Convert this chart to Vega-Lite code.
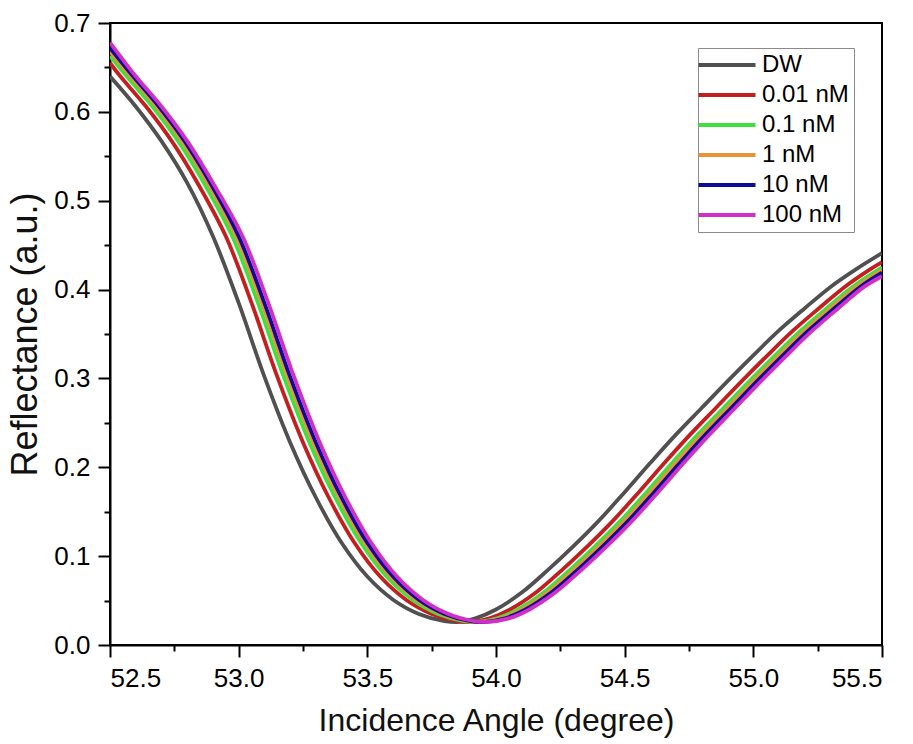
{
"$schema": "https://vega.github.io/schema/vega-lite/v6.json",
"width": 772, "height": 622,
"autosize": {"type": "none"},
"padding": {"left": 110, "top": 23, "right": 31, "bottom": 99},
"background": "white",
"config": {
 "view": {"stroke": "black", "strokeWidth": 2},
 "font": "Liberation Sans",
 "axis": {"domainColor": "black", "domainWidth": 2, "tickColor": "black", "tickWidth": 2, "tickSize": 12, "labelFontSize": 26, "labelColor": "black", "labelPadding": 8, "titleFontSize": 32, "titleFontWeight": "normal", "titleColor": "#111", "grid": false, "labelFont": "Liberation Sans", "titleFont": "Liberation Sans"}
},
"data": {"values": [
{"s":"DW","x":52.50,"y":0.640},{"s":"DW","x":52.60,"y":0.606},{"s":"DW","x":52.70,"y":0.567},{"s":"DW","x":52.80,"y":0.520},{"s":"DW","x":52.90,"y":0.460},{"s":"DW","x":53.00,"y":0.385},{"s":"DW","x":53.10,"y":0.302},{"s":"DW","x":53.20,"y":0.228},{"s":"DW","x":53.30,"y":0.166},{"s":"DW","x":53.40,"y":0.115},{"s":"DW","x":53.50,"y":0.077},{"s":"DW","x":53.60,"y":0.051},{"s":"DW","x":53.70,"y":0.035},{"s":"DW","x":53.80,"y":0.027},{"s":"DW","x":53.86,"y":0.026},{"s":"DW","x":53.92,"y":0.030},{"s":"DW","x":54.00,"y":0.040},{"s":"DW","x":54.10,"y":0.059},{"s":"DW","x":54.20,"y":0.084},{"s":"DW","x":54.30,"y":0.111},{"s":"DW","x":54.40,"y":0.140},{"s":"DW","x":54.50,"y":0.172},{"s":"DW","x":54.60,"y":0.205},{"s":"DW","x":54.70,"y":0.237},{"s":"DW","x":54.80,"y":0.267},{"s":"DW","x":54.90,"y":0.297},{"s":"DW","x":55.00,"y":0.326},{"s":"DW","x":55.10,"y":0.354},{"s":"DW","x":55.20,"y":0.379},{"s":"DW","x":55.30,"y":0.403},{"s":"DW","x":55.40,"y":0.423},{"s":"DW","x":55.50,"y":0.441},
{"s":"0.01 nM","x":52.50,"y":0.655},{"s":"0.01 nM","x":52.54,"y":0.640},{"s":"0.01 nM","x":52.64,"y":0.606},{"s":"0.01 nM","x":52.74,"y":0.567},{"s":"0.01 nM","x":52.84,"y":0.520},{"s":"0.01 nM","x":52.95,"y":0.460},{"s":"0.01 nM","x":53.05,"y":0.385},{"s":"0.01 nM","x":53.15,"y":0.302},{"s":"0.01 nM","x":53.25,"y":0.228},{"s":"0.01 nM","x":53.35,"y":0.166},{"s":"0.01 nM","x":53.45,"y":0.115},{"s":"0.01 nM","x":53.55,"y":0.077},{"s":"0.01 nM","x":53.65,"y":0.051},{"s":"0.01 nM","x":53.75,"y":0.035},{"s":"0.01 nM","x":53.85,"y":0.027},{"s":"0.01 nM","x":53.905,"y":0.026},{"s":"0.01 nM","x":53.975,"y":0.030},{"s":"0.01 nM","x":54.055,"y":0.040},{"s":"0.01 nM","x":54.155,"y":0.059},{"s":"0.01 nM","x":54.255,"y":0.084},{"s":"0.01 nM","x":54.355,"y":0.111},{"s":"0.01 nM","x":54.455,"y":0.140},{"s":"0.01 nM","x":54.555,"y":0.172},{"s":"0.01 nM","x":54.655,"y":0.205},{"s":"0.01 nM","x":54.755,"y":0.237},{"s":"0.01 nM","x":54.855,"y":0.267},{"s":"0.01 nM","x":54.955,"y":0.297},{"s":"0.01 nM","x":55.055,"y":0.326},{"s":"0.01 nM","x":55.155,"y":0.354},{"s":"0.01 nM","x":55.255,"y":0.379},{"s":"0.01 nM","x":55.355,"y":0.403},{"s":"0.01 nM","x":55.455,"y":0.423},{"s":"0.01 nM","x":55.50,"y":0.431},
{"s":"0.1 nM","x":52.50,"y":0.663},{"s":"0.1 nM","x":52.565,"y":0.640},{"s":"0.1 nM","x":52.665,"y":0.606},{"s":"0.1 nM","x":52.765,"y":0.567},{"s":"0.1 nM","x":52.865,"y":0.520},{"s":"0.1 nM","x":52.975,"y":0.460},{"s":"0.1 nM","x":53.075,"y":0.385},{"s":"0.1 nM","x":53.175,"y":0.302},{"s":"0.1 nM","x":53.275,"y":0.228},{"s":"0.1 nM","x":53.375,"y":0.166},{"s":"0.1 nM","x":53.475,"y":0.115},{"s":"0.1 nM","x":53.575,"y":0.077},{"s":"0.1 nM","x":53.675,"y":0.051},{"s":"0.1 nM","x":53.775,"y":0.035},{"s":"0.1 nM","x":53.875,"y":0.027},{"s":"0.1 nM","x":53.93,"y":0.026},{"s":"0.1 nM","x":54.005,"y":0.030},{"s":"0.1 nM","x":54.085,"y":0.040},{"s":"0.1 nM","x":54.185,"y":0.059},{"s":"0.1 nM","x":54.285,"y":0.084},{"s":"0.1 nM","x":54.385,"y":0.111},{"s":"0.1 nM","x":54.485,"y":0.140},{"s":"0.1 nM","x":54.585,"y":0.172},{"s":"0.1 nM","x":54.685,"y":0.205},{"s":"0.1 nM","x":54.785,"y":0.237},{"s":"0.1 nM","x":54.885,"y":0.267},{"s":"0.1 nM","x":54.985,"y":0.297},{"s":"0.1 nM","x":55.085,"y":0.326},{"s":"0.1 nM","x":55.185,"y":0.354},{"s":"0.1 nM","x":55.285,"y":0.379},{"s":"0.1 nM","x":55.385,"y":0.403},{"s":"0.1 nM","x":55.50,"y":0.425},
{"s":"1 nM","x":52.50,"y":0.668},{"s":"1 nM","x":52.58,"y":0.640},{"s":"1 nM","x":52.68,"y":0.606},{"s":"1 nM","x":52.78,"y":0.567},{"s":"1 nM","x":52.88,"y":0.520},{"s":"1 nM","x":52.99,"y":0.460},{"s":"1 nM","x":53.09,"y":0.385},{"s":"1 nM","x":53.19,"y":0.302},{"s":"1 nM","x":53.29,"y":0.228},{"s":"1 nM","x":53.39,"y":0.166},{"s":"1 nM","x":53.49,"y":0.115},{"s":"1 nM","x":53.59,"y":0.077},{"s":"1 nM","x":53.69,"y":0.051},{"s":"1 nM","x":53.79,"y":0.035},{"s":"1 nM","x":53.89,"y":0.027},{"s":"1 nM","x":53.945,"y":0.026},{"s":"1 nM","x":54.02,"y":0.030},{"s":"1 nM","x":54.10,"y":0.040},{"s":"1 nM","x":54.20,"y":0.059},{"s":"1 nM","x":54.30,"y":0.084},{"s":"1 nM","x":54.40,"y":0.111},{"s":"1 nM","x":54.50,"y":0.140},{"s":"1 nM","x":54.60,"y":0.172},{"s":"1 nM","x":54.70,"y":0.205},{"s":"1 nM","x":54.80,"y":0.237},{"s":"1 nM","x":54.90,"y":0.267},{"s":"1 nM","x":55.00,"y":0.297},{"s":"1 nM","x":55.10,"y":0.326},{"s":"1 nM","x":55.20,"y":0.354},{"s":"1 nM","x":55.30,"y":0.379},{"s":"1 nM","x":55.40,"y":0.403},{"s":"1 nM","x":55.50,"y":0.422},
{"s":"10 nM","x":52.50,"y":0.672},{"s":"10 nM","x":52.59,"y":0.640},{"s":"10 nM","x":52.69,"y":0.606},{"s":"10 nM","x":52.79,"y":0.567},{"s":"10 nM","x":52.89,"y":0.520},{"s":"10 nM","x":53.00,"y":0.460},{"s":"10 nM","x":53.10,"y":0.385},{"s":"10 nM","x":53.20,"y":0.302},{"s":"10 nM","x":53.30,"y":0.228},{"s":"10 nM","x":53.40,"y":0.166},{"s":"10 nM","x":53.50,"y":0.115},{"s":"10 nM","x":53.60,"y":0.077},{"s":"10 nM","x":53.70,"y":0.051},{"s":"10 nM","x":53.80,"y":0.035},{"s":"10 nM","x":53.90,"y":0.027},{"s":"10 nM","x":53.955,"y":0.026},{"s":"10 nM","x":54.035,"y":0.030},{"s":"10 nM","x":54.115,"y":0.040},{"s":"10 nM","x":54.215,"y":0.059},{"s":"10 nM","x":54.315,"y":0.084},{"s":"10 nM","x":54.415,"y":0.111},{"s":"10 nM","x":54.515,"y":0.140},{"s":"10 nM","x":54.615,"y":0.172},{"s":"10 nM","x":54.715,"y":0.205},{"s":"10 nM","x":54.815,"y":0.237},{"s":"10 nM","x":54.915,"y":0.267},{"s":"10 nM","x":55.015,"y":0.297},{"s":"10 nM","x":55.115,"y":0.326},{"s":"10 nM","x":55.215,"y":0.354},{"s":"10 nM","x":55.315,"y":0.379},{"s":"10 nM","x":55.415,"y":0.403},{"s":"10 nM","x":55.50,"y":0.419},
{"s":"100 nM","x":52.50,"y":0.678},{"s":"100 nM","x":52.60,"y":0.640},{"s":"100 nM","x":52.70,"y":0.606},{"s":"100 nM","x":52.80,"y":0.567},{"s":"100 nM","x":52.90,"y":0.520},{"s":"100 nM","x":53.015,"y":0.460},{"s":"100 nM","x":53.115,"y":0.385},{"s":"100 nM","x":53.215,"y":0.302},{"s":"100 nM","x":53.315,"y":0.228},{"s":"100 nM","x":53.415,"y":0.166},{"s":"100 nM","x":53.515,"y":0.115},{"s":"100 nM","x":53.615,"y":0.077},{"s":"100 nM","x":53.715,"y":0.051},{"s":"100 nM","x":53.815,"y":0.035},{"s":"100 nM","x":53.915,"y":0.027},{"s":"100 nM","x":53.965,"y":0.026},{"s":"100 nM","x":54.05,"y":0.030},{"s":"100 nM","x":54.13,"y":0.040},{"s":"100 nM","x":54.23,"y":0.059},{"s":"100 nM","x":54.33,"y":0.084},{"s":"100 nM","x":54.43,"y":0.111},{"s":"100 nM","x":54.53,"y":0.140},{"s":"100 nM","x":54.63,"y":0.172},{"s":"100 nM","x":54.73,"y":0.205},{"s":"100 nM","x":54.83,"y":0.237},{"s":"100 nM","x":54.93,"y":0.267},{"s":"100 nM","x":55.03,"y":0.297},{"s":"100 nM","x":55.13,"y":0.326},{"s":"100 nM","x":55.23,"y":0.354},{"s":"100 nM","x":55.33,"y":0.379},{"s":"100 nM","x":55.43,"y":0.403},{"s":"100 nM","x":55.50,"y":0.415}
]},
"layer": [
 {
  "mark": {"type": "line", "interpolate": "catmull-rom", "strokeWidth": 3.8, "clip": true},
  "encoding": {
   "x": {"field": "x", "type": "quantitative", "scale": {"domain": [52.5, 55.5], "nice": false, "zero": false},
     "axis": {"orient": "bottom", "values": [52.5, 53, 53.5, 54, 54.5, 55, 55.5], "format": ".1f", "title": "Incidence Angle (degree)", "titlePadding": 14}},
   "y": {"field": "y", "type": "quantitative", "scale": {"domain": [0, 0.7], "nice": false},
     "axis": {"orient": "left", "values": [0, 0.1, 0.2, 0.3, 0.4, 0.5, 0.6, 0.7], "format": ".1f", "title": "Reflectance (a.u.)", "titleFontSize": 36, "titlePadding": 9}},
   "color": {"field": "s", "type": "nominal",
     "scale": {"domain": ["DW", "0.01 nM", "0.1 nM", "1 nM", "10 nM", "100 nM"], "range": ["#505050", "#c41e1e", "#3ee03e", "#e8923a", "#0c0c96", "#d030c8"]},
     "legend": {"title": null, "orient": "none", "legendX": 588, "legendY": 25, "strokeColor": "#8a8a8a", "fillColor": "white", "padding": 5, "labelFontSize": 24, "labelColor": "black", "labelFont": "Liberation Sans", "symbolType": "M-5,0H5", "symbolSize": 130, "symbolStrokeWidth": 4, "symbolOffset": 12, "labelOffset": 23, "rowPadding": 6, "labelLimit": 300}}
  }
 },
 {
  "mark": {"type": "line", "strokeOpacity": 0},
  "encoding": {
   "x": {"field": "x", "type": "quantitative", "axis": {"orient": "bottom", "values": [52.75, 53.25, 53.75, 54.25, 54.75, 55.25], "labels": false, "tickSize": 6, "domain": false, "title": null, "grid": false}},
   "y": {"field": "y", "type": "quantitative", "axis": {"orient": "left", "values": [0.05, 0.15, 0.25, 0.35, 0.45, 0.55, 0.65], "labels": false, "tickSize": 6, "domain": false, "title": null, "grid": false}}
  }
 }
],
"resolve": {"axis": {"x": "independent", "y": "independent"}}
}
